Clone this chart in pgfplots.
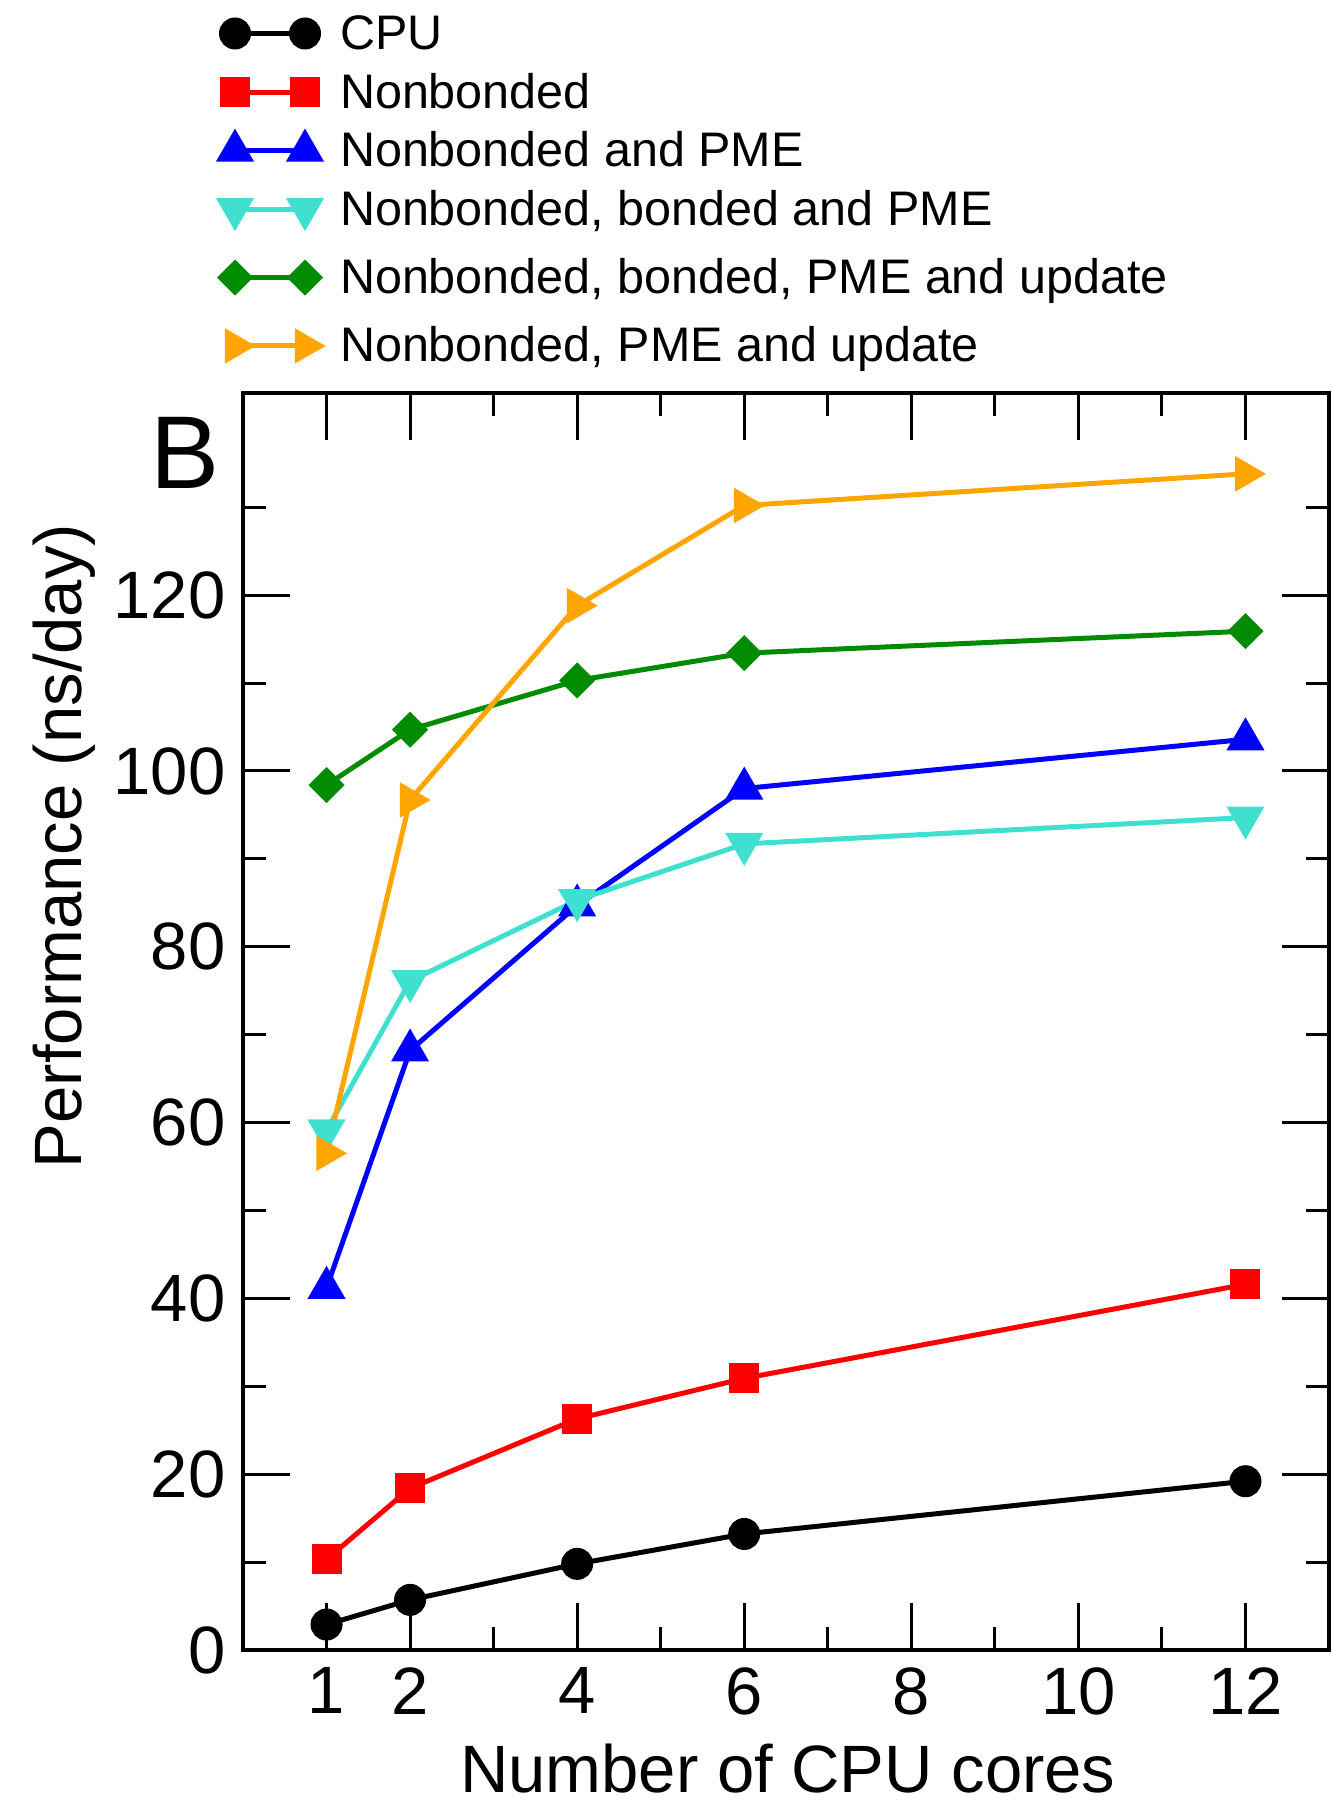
\documentclass[border=0pt]{standalone}
\usepackage{fontspec}
\setmainfont{Liberation Sans}
\usepackage{pgfplots}
\pgfplotsset{compat=1.18}
\definecolor{gturq}{RGB}{64,224,208}
\definecolor{ggreen}{RGB}{0,139,0}
\definecolor{gorange}{RGB}{255,165,0}
\pgfplotsset{deep legend/.style={legend image code/.code={\draw[##1] plot coordinates {(0pt,0.7pt) (14pt,0.7pt)}; \path (0pt,-5.97pt);}}}
\begin{document}
\begin{tikzpicture}
\begin{axis}[
  at={(0pt,0pt)}, anchor=south west,
  scale only axis, width=217.2pt, height=251.4pt,
  xmin=0, xmax=13, ymin=0, ymax=143,
  xtick={1,2,4,6,8,10,12}, minor xtick={3,5,7,9,11},
  ytick={0,20,...,120}, minor ytick={10,30,...,140},
  tick align=inside,
  major tick length=9.4pt, minor tick length=4.6pt,
  every tick/.style={black, line width=0.6pt},
  axis line style={line width=0.8pt},
  /pgf/number format/assume math mode=true,
  tick label style={font=\fontsize{13.4}{14}\selectfont},
  label style={font=\fontsize{13.4}{14}\selectfont},
  xlabel={Number of CPU cores},
  ylabel={Performance (ns/day)},
  xlabel style={at={(axis description cs:0.5018,-0.1137)}, anchor=base, inner sep=0pt},
  ylabel style={at={(axis description cs:-0.1483,0.6396)}, anchor=base, rotate=0, inner sep=0pt},
  legend cell align=left,
  legend image code/.code={\draw[#1] plot coordinates {(0pt,0.7pt) (14pt,0.7pt)};},
  legend style={draw=none, fill=none, inner sep=0pt, outer sep=0pt,
    at={(axis description cs:-0.0209,1.3011)}, anchor=north west,
    font=\fontsize{9.7}{11}\selectfont,
    nodes={inner sep=0pt, text height=7pt, text depth=2pt},
    row sep=2.71pt, column sep=3.9pt},
  every axis plot/.append style={line width=1pt},
]
\addplot[black, mark=*, mark size=2.7pt] coordinates {(1,2.9)(2,5.7)(4,9.8)(6,13.2)(12,19.2)};
\addlegendentry{CPU}
\addplot[red, mark=square*, mark size=2.5pt] coordinates {(1,10.3)(2,18.4)(4,26.3)(6,30.9)(12,41.6)};
\addlegendentry{Nonbonded}
\addplot[blue, mark=triangle*, mark size=3.4pt, mark options={solid}] coordinates {(1,41.2)(2,68.2)(4,84.7)(6,98.0)(12,103.6)};
\addlegendentry{Nonbonded and PME}
\addplot[gturq, mark=triangle*, mark size=3.4pt, mark options={rotate=180}, deep legend] coordinates {(1,59.1)(2,76.1)(4,85.3)(6,91.7)(12,94.7)};
\addlegendentry{Nonbonded, bonded and PME}
\addplot[ggreen, mark=square*, mark size=2.05pt, mark options={rotate=45}, deep legend] coordinates {(1,98.4)(2,104.7)(4,110.3)(6,113.4)(12,115.9)};
\addlegendentry{Nonbonded, bonded, PME and update}
\addplot[gorange, mark=triangle*, mark size=3.1pt, mark options={rotate=-90}] coordinates {(1,56.5)(2,96.7)(4,118.8)(6,130.2)(12,133.8)};
\addlegendentry{Nonbonded, PME and update}
\end{axis}
\node[anchor=base, font=\fontsize{20.7}{21}\selectfont, inner sep=0pt] at (-11.6pt,232.2pt) {B};
\pgfresetboundingbox
\path (-48.6pt,-30.6pt) rectangle (217.6pt,330pt);
\end{tikzpicture}
\end{document}
